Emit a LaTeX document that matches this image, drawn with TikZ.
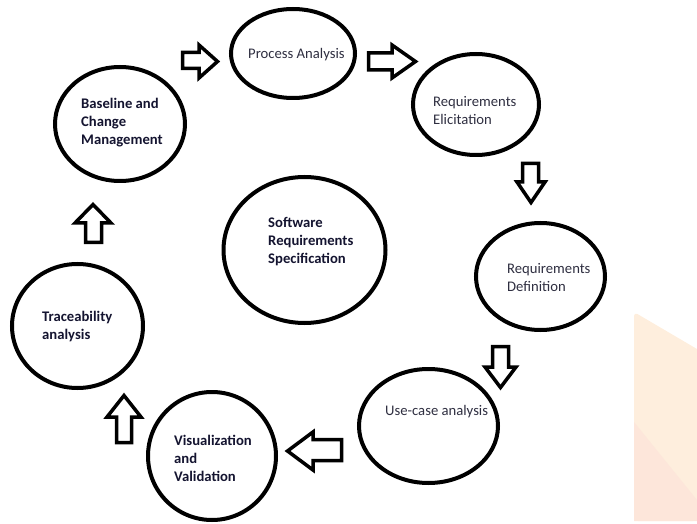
\documentclass[tikz,border=0pt]{standalone}
\usepackage{fontspec}
\setmainfont{Carlito}
\usetikzlibrary{shapes.geometric}
\definecolor{wmA}{HTML}{FEEEDD}
\definecolor{wmB}{HTML}{FDE6DA}
\definecolor{txtR}{HTML}{2E2E40}
\definecolor{txtB}{HTML}{141430}
\begin{document}
\begin{tikzpicture}[x=1pt,y=-1pt,
  bubble/.style={draw=black, line width=4pt, ellipse, inner sep=0pt},
  blk/.style={draw=black, line width=3.5pt, fill=white, line join=miter},
  lbl/.style={anchor=west, align=left, inner sep=0pt, font=\fontsize{14.67}{18}\selectfont, text=txtR},
  lblb/.style={lbl, font=\fontsize{14.67}{18}\selectfont\bfseries, text=txtB}]
\useasboundingbox (0,0) rectangle (697,524);
% watermark
\fill[wmA] (634,312) -- (697,349) -- (697,516) [rounded corners=4pt] -- (697,521) -- (634,521) -- cycle;
\fill[wmB] (634,422) -- (697,500) -- (697,516) -- (697,521) -- (634,521) -- cycle;
% ellipses
\node[bubble, minimum width=124pt, minimum height=89pt]  (pa) at (293,53.5) {};
\node[bubble, minimum width=126pt, minimum height=101pt] (re) at (476,104.5) {};
\node[bubble, minimum width=129pt, minimum height=107pt] (rd) at (540.5,276.5) {};
\node[bubble, minimum width=139pt, minimum height=114pt] (uc) at (428.5,426) {};
\node[bubble, minimum width=128pt, minimum height=128pt] (vv) at (212,456) {};
\node[bubble, minimum width=131pt, minimum height=124pt] (ta) at (77.5,326) {};
\node[bubble, minimum width=130pt, minimum height=114pt] (bc) at (120,124) {};
\node[bubble, minimum width=162pt, minimum height=146pt] (srs) at (304.5,250) {};
% labels
\node[lbl]  (pa-t)  at (248,55)  {Process Analysis};
\node[lbl]  (re-t)  at (433,111) {Requirements\\Elicitation};
\node[lbl]  (rd-t)  at (507,278) {Requirements\\Definition};
\node[lbl]  (uc-t)  at (385,412) {Use-case analysis};
\node[lblb] (vv-t)  at (174,458) {Visualization\\and\\Validation};
\node[lblb] (ta-t)  at (42,327)  {Traceability\\analysis};
\node[lblb] (bc-t)  at (81,123)  {Baseline and\\Change\\Management};
\node[lblb] (srs-t) at (268,242) {Software\\Requirements\\Specification};
% block arrows
\draw[blk] (182.5,52.5) -- (199,52.5) -- (199,45) -- (217.5,61.5) -- (199,78) -- (199,68.5) -- (182.5,68.5) -- cycle;
\draw[blk] (368.5,53) -- (392,53) -- (392,45) -- (415.5,61.5) -- (392,78) -- (392,70) -- (368.5,70) -- cycle;
\draw[blk] (522.5,163.5) -- (538.5,163.5) -- (538.5,182) -- (545,182) -- (531,202.5) -- (517,182) -- (522.5,182) -- cycle;
\draw[blk] (492.5,346.5) -- (508.5,346.5) -- (508.5,367) -- (516,367) -- (500.5,387.5) -- (485,367) -- (492.5,367) -- cycle;
\draw[blk] (341.5,439.5) -- (313,439.5) -- (313,432) -- (287.5,451) -- (313,470) -- (313,460.5) -- (341.5,460.5) -- cycle;
\draw[blk] (116.5,442.5) -- (116.5,417) -- (107,417) -- (124,395.5) -- (141,417) -- (131.5,417) -- (131.5,442.5) -- cycle;
\draw[blk] (85.5,242.5) -- (85.5,223) -- (75,223) -- (93,204.5) -- (111,223) -- (101.5,223) -- (101.5,242.5) -- cycle;
\end{tikzpicture}
\end{document}
